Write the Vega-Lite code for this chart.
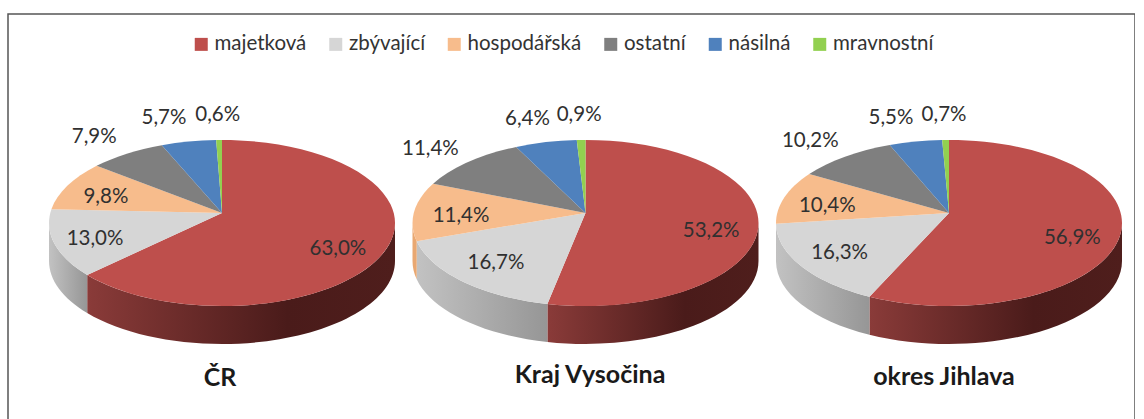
{
"$schema":"https://vega.github.io/schema/vega-lite/v6.json",
"width":1127,"height":420,
"padding":{"left":8,"top":14,"right":0,"bottom":0},
"autosize":{"type":"none"},
"background":"white",
"config":{"view":{"stroke":"#555555","strokeWidth":1.5},"text":{"font":"Lato"}},
"data":{"values":[
{"pie":"ČR","cat":"majetková","value":63.0},
{"pie":"ČR","cat":"zbývající","value":13.0},
{"pie":"ČR","cat":"hospodářská","value":9.8},
{"pie":"ČR","cat":"ostatní","value":7.9},
{"pie":"ČR","cat":"násilná","value":5.7},
{"pie":"ČR","cat":"mravnostní","value":0.6},
{"pie":"Kraj Vysočina","cat":"majetková","value":53.2},
{"pie":"Kraj Vysočina","cat":"zbývající","value":16.7},
{"pie":"Kraj Vysočina","cat":"hospodářská","value":11.4},
{"pie":"Kraj Vysočina","cat":"ostatní","value":11.4},
{"pie":"Kraj Vysočina","cat":"násilná","value":6.4},
{"pie":"Kraj Vysočina","cat":"mravnostní","value":0.9},
{"pie":"okres Jihlava","cat":"majetková","value":56.9},
{"pie":"okres Jihlava","cat":"zbývající","value":16.3},
{"pie":"okres Jihlava","cat":"hospodářská","value":10.4},
{"pie":"okres Jihlava","cat":"ostatní","value":10.2},
{"pie":"okres Jihlava","cat":"násilná","value":5.5},
{"pie":"okres Jihlava","cat":"mravnostní","value":0.7}
]},
"transform":[
{"stack":"value","groupby":["pie"],"offset":"normalize","as":["s0","s1"]},
{"calculate":"datum.s0*2*PI","as":"t0"},
{"calculate":"datum.s1*2*PI","as":"t1"},
{"calculate":"datum.t0-0.105*sin(datum.t0)","as":"p0"},
{"calculate":"datum.t1-0.105*sin(datum.t1)","as":"p1"},
{"calculate":"{'ČR':222,'Kraj Vysočina':585.5,'okres Jihlava':949}[datum.pie]","as":"cx"},
{"calculate":"round(17300*sin(datum.p0))/100","as":"x0"},
{"calculate":"round(-8300*cos(datum.p0))/100","as":"y0"},
{"calculate":"round(17300*sin(datum.p1))/100","as":"x1"},
{"calculate":"round(-8300*cos(datum.p1))/100","as":"y1"},
{"calculate":"'M0,-10 L'+datum.x0+','+datum.y0+' A173,83 0 '+((datum.p1-datum.p0)>PI?1:0)+' 1 '+datum.x1+','+datum.y1+' Z'","as":"topPath"},
{"calculate":"clamp(datum.p0,PI/2,3*PI/2)","as":"v0"},
{"calculate":"clamp(datum.p1,PI/2,3*PI/2)","as":"v1"},
{"calculate":"round(17300*sin(datum.v0))/100","as":"sx0"},
{"calculate":"round(-8300*cos(datum.v0))/100","as":"sy0"},
{"calculate":"round(17300*sin(datum.v1))/100","as":"sx1"},
{"calculate":"round(-8300*cos(datum.v1))/100","as":"sy1"},
{"calculate":"'M'+datum.sx0+','+datum.sy0+' A173,83 0 0 1 '+datum.sx1+','+datum.sy1+' L'+datum.sx1+','+(datum.sy1+38)+' A173,83 0 0 0 '+datum.sx0+','+(datum.sy0+38)+' Z'","as":"sidePath"},
{"calculate":"(datum.t0+datum.t1)/2","as":"mid"},
{"calculate":"indexof(['ostatní','násilná','mravnostní'],datum.cat)>=0?1.3:0.72","as":"k"},
{"calculate":"{'majetková':0.73,'zbývající':0.78,'hospodářská':0.72,'ostatní':1.23,'násilná':1.3,'mravnostní':1.3}[datum.cat]","as":"kx"},
{"calculate":"datum.cat=='násilná'?datum.cx-58:datum.cx+datum.kx*173*sin(datum.mid)","as":"lx"},
{"calculate":"(datum.cat=='majetková'?225:(datum.k>1?223:218.5))-datum.k*83*cos(datum.mid)","as":"ly"},
{"calculate":"replace(format(datum.value,'.1f'),'.',',')+'%'","as":"label"}
],
"layer":[
{"transform":[{"filter":"datum.v1>datum.v0 && datum.cat=='majetková'"}],
 "mark":{"type":"point","filled":true,"opacity":1,"size":4,"fill":{"gradient":"linear","x1":0,"y1":0,"x2":1,"y2":0,"stops":[{"offset":0,"color":"#8a3b39"},{"offset":0.65,"color":"#4a1b1a"},{"offset":1,"color":"#4f1e1c"}]}},
 "encoding":{
 "x":{"field":"cx","type":"quantitative","axis":null,"scale":{"domain":[8,1135],"nice":false,"zero":false}},
 "y":{"datum":223,"type":"quantitative","axis":null,"scale":{"domain":[14,434],"reverse":true,"nice":false,"zero":false}},
 "shape":{"field":"sidePath","type":"nominal","scale":null}}},
{"transform":[{"filter":"datum.v1>datum.v0 && datum.cat=='zbývající'"}],
 "mark":{"type":"point","filled":true,"opacity":1,"size":4,"fill":{"gradient":"linear","x1":0,"y1":0,"x2":1,"y2":0,"stops":[{"offset":0,"color":"#c2c2c2"},{"offset":1,"color":"#969696"}]}},
 "encoding":{
 "x":{"field":"cx","type":"quantitative","axis":null},
 "y":{"datum":223,"type":"quantitative","axis":null},
 "shape":{"field":"sidePath","type":"nominal","scale":null}}},
{"transform":[{"filter":"datum.v1>datum.v0 && datum.cat=='hospodářská'"}],
 "mark":{"type":"point","filled":true,"opacity":1,"size":4,"fill":"#e9a872"},
 "encoding":{
 "x":{"field":"cx","type":"quantitative","axis":null},
 "y":{"datum":223,"type":"quantitative","axis":null},
 "shape":{"field":"sidePath","type":"nominal","scale":null}}},
{"mark":{"type":"point","filled":true,"opacity":1,"size":4},
 "encoding":{
 "x":{"field":"cx","type":"quantitative","axis":null},
 "y":{"datum":223,"type":"quantitative","axis":null},
 "shape":{"field":"topPath","type":"nominal","scale":null},
 "color":{"field":"cat","type":"nominal",
  "scale":{"domain":["majetková","zbývající","hospodářská","ostatní","násilná","mravnostní"],"range":["#be4f4c","#d6d6d6","#f7bc8c","#7f7f7f","#4f81bd","#92d050"]},
  "legend":{"title":null,"orient":"none","legendX":183,"legendY":20,"direction":"horizontal","columns":6,"columnPadding":18.5,"symbolType":"square","symbolSize":169,"symbolStrokeWidth":0,"labelFont":"Lato","labelFontSize":20.5,"labelColor":"#333333","labelOffset":3,"labelLimit":300}}
 }},
{"mark":{"type":"text","font":"Lato","fontSize":20.5,"color":"#303030","align":"center","baseline":"middle"},
 "encoding":{
 "x":{"field":"lx","type":"quantitative","axis":null},
 "y":{"field":"ly","type":"quantitative","axis":null},
 "text":{"field":"label","type":"nominal"}
 }},
{"data":{"values":[{"pie":"ČR"},{"pie":"Kraj Vysočina"},{"pie":"okres Jihlava"}]},
 "transform":[
 {"calculate":"{'ČR':220,'Kraj Vysočina':590,'okres Jihlava':944}[datum.pie]","as":"tx"},
 {"calculate":"{'ČR':378,'Kraj Vysočina':375,'okres Jihlava':377}[datum.pie]","as":"ty"}],
 "mark":{"type":"text","font":"Lato","fontSize":25,"fontWeight":"bold","color":"#1a1a1a","align":"center","baseline":"middle"},
 "encoding":{
 "x":{"field":"tx","type":"quantitative","axis":null},
 "y":{"field":"ty","type":"quantitative","axis":null},
 "text":{"field":"pie","type":"nominal"}
 }}
]
}
